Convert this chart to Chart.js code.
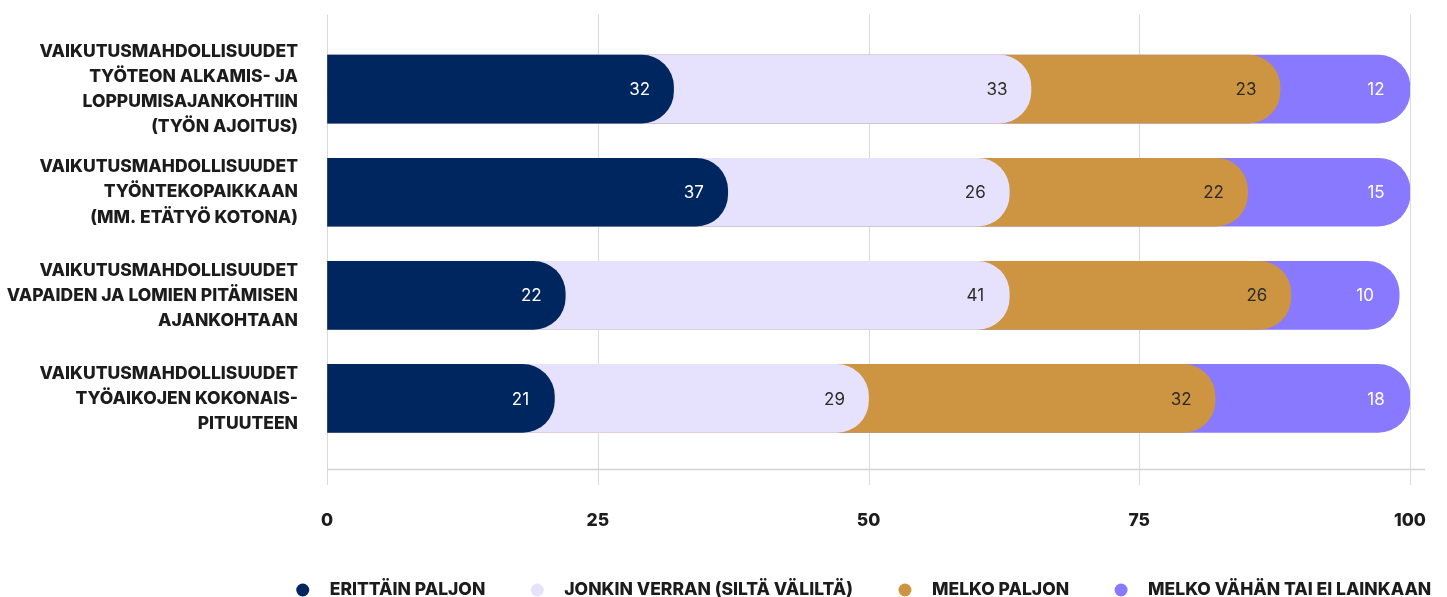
<!DOCTYPE html>
<html lang="fi">
<head>
<meta charset="utf-8">
<title>Vaikutusmahdollisuudet</title>
<script src="https://cdn.jsdelivr.net/npm/chart.js@4/dist/chart.umd.min.js"></script>
<style>
  html, body { margin: 0; padding: 0; background: #fff; overflow: hidden; }
  #wrap { width: 1447px; height: 597px; position: relative; }
</style>
</head>
<body>
<div id="wrap"><canvas id="chart"></canvas></div>
<script>
// Row labels (multi-line)
const categories = [
    ['VAIKUTUSMAHDOLLISUUDET', 'TYÖTEON ALKAMIS- JA', 'LOPPUMISAJANKOHTIIN', '(TYÖN AJOITUS)'],
    ['VAIKUTUSMAHDOLLISUUDET', 'TYÖNTEKOPAIKKAAN', '(MM. ETÄTYÖ KOTONA)'],
    ['VAIKUTUSMAHDOLLISUUDET', 'VAPAIDEN JA LOMIEN PITÄMISEN', 'AJANKOHTAAN'],
    ['VAIKUTUSMAHDOLLISUUDET', 'TYÖAIKOJEN KOKONAIS-', 'PITUUTEEN']
];

// Series values (%)
const erittainPaljon = [32, 37, 22, 21];
const jonkinVerran = [33, 26, 41, 29];
const melkoPaljon = [23, 22, 26, 32];
const melkoVahan = [12, 15, 10, 18];

const seriesLabels = ['ERITTÄIN PALJON', 'JONKIN VERRAN (SILTÄ VÄLILTÄ)', 'MELKO PALJON', 'MELKO VÄHÄN TAI EI LAINKAAN'];
const xTicks = [0, 25, 50, 75, 100];

// Colors
const colors = ['#00265f', '#e6e2fd', '#cd9541', '#8879fe'];
const labelColors = ['#ffffff', '#2b2b2b', '#2b2b2b', '#ffffff'];

const FONT = 'Inter, "Noto Sans", sans-serif';
const TEXT = '#1c1c1c';

// Each segment is drawn from 0 to its running total, so the rounded
// right end of one segment sits on top of the next one.
const series = [erittainPaljon, jonkinVerran, melkoPaljon, melkoVahan];
const running = categories.map(() => 0);
const datasets = series.map((values, i) => {
    const ends = values.map((v, j) => (running[j] += v));
    return {
        label: seriesLabels[i],
        data: ends,
        raw: values,
        backgroundColor: colors[i],
        borderRadius: 32,
        borderSkipped: 'start',
        barThickness: 68
    };
});

// Grid lines that reach above and below the plot area
const gridPlugin = {
    id: 'extendedGrid',
    beforeDatasetsDraw(chart) {
        const { ctx, chartArea, scales: { x } } = chart;
        ctx.save();
        ctx.strokeStyle = '#dadada';
        ctx.lineWidth = 1;
        xTicks.forEach(t => {
            const px = Math.round(x.getPixelForValue(t)) + 0.5;
            ctx.beginPath();
            ctx.moveTo(px, chartArea.top - 23);
            ctx.lineTo(px, chartArea.bottom + 35);
            ctx.stroke();
        });
        const by = Math.round(chartArea.bottom + 19) + 0.5;
        ctx.lineWidth = 1.5;
        ctx.strokeStyle = '#d4d4d4';
        ctx.beginPath();
        ctx.moveTo(chartArea.left, by);
        ctx.lineTo(chartArea.right + 15, by);
        ctx.stroke();
        ctx.restore();
    }
};

// Value labels at the end of each segment
const valueLabels = {
    id: 'valueLabels',
    afterDatasetsDraw(chart) {
        const { ctx } = chart;
        ctx.save();
        ctx.font = '17px ' + FONT;
        ctx.textAlign = 'center';
        ctx.textBaseline = 'middle';
        chart.data.datasets.forEach((ds, i) => {
            const meta = chart.getDatasetMeta(i);
            ctx.fillStyle = labelColors[i];
            meta.data.forEach((bar, j) => {
                ctx.fillText(String(ds.raw[j]), bar.x - 34, bar.y + 1);
            });
        });
        ctx.restore();
    }
};

// Legend with round dots, centred under the plot area
const dotLegend = {
    id: 'dotLegend',
    afterDraw(chart) {
        const { ctx, chartArea } = chart;
        ctx.save();
        ctx.font = '800 17.5px ' + FONT;
        ctx.textBaseline = 'middle';
        const dotR = 6.5, dotGap = 27, itemGap = 52;
        const widths = seriesLabels.map(s => ctx.measureText(s).width);
        const total = widths.reduce((a, w) => a + w + dotR + dotGap, 0) + itemGap * (seriesLabels.length - 1);
        let x = (chartArea.left + chartArea.right) / 2 - total / 2 + dotR + 5;
        const y = chart.height - 8;
        seriesLabels.forEach((s, i) => {
            ctx.fillStyle = colors[i];
            ctx.beginPath();
            ctx.arc(x, y + 1, dotR, 0, Math.PI * 2);
            ctx.fill();
            ctx.fillStyle = TEXT;
            ctx.fillText(s, x + dotGap, y + 1);
            x += dotGap + widths[i] + itemGap;
        });
        ctx.restore();
    }
};

// Tick marks are kept invisible; their length gives the gap to the labels
const hiddenTicks = (len) => ({
    display: true,
    drawOnChartArea: false,
    drawTicks: true,
    tickLength: len,
    tickColor: 'rgba(0,0,0,0)',
    color: 'rgba(0,0,0,0)'
});

new Chart(document.getElementById('chart'), {
    type: 'bar',
    data: { labels: categories, datasets },
    options: {
        indexAxis: 'y',
        responsive: true,
        maintainAspectRatio: false,
        animation: false,
        layout: { padding: { top: 36, right: 37, bottom: 57, left: 0 } },
        scales: {
            x: {
                min: 0,
                max: 100,
                stacked: false,
                afterBuildTicks(scale) { scale.ticks = xTicks.map(v => ({ value: v })); },
                afterFit(scale) { scale.height = 90; },
                grid: hiddenTicks(60),
                border: { display: false },
                ticks: {
                    padding: 0,
                    maxRotation: 0,
                    autoSkip: false,
                    color: TEXT,
                    font: { family: FONT, size: 17.5, weight: '800' }
                }
            },
            y: {
                stacked: true,
                afterFit(scale) { scale.width = 327; },
                grid: hiddenTicks(29),
                border: { display: false },
                ticks: {
                    padding: 0,
                    autoSkip: false,
                    color: TEXT,
                    font: { family: FONT, size: 17.5, weight: '800', lineHeight: 1.43 }
                }
            }
        },
        plugins: {
            legend: { display: false },
            tooltip: { enabled: false }
        }
    },
    plugins: [gridPlugin, valueLabels, dotLegend]
});
</script>
</body>
</html>
